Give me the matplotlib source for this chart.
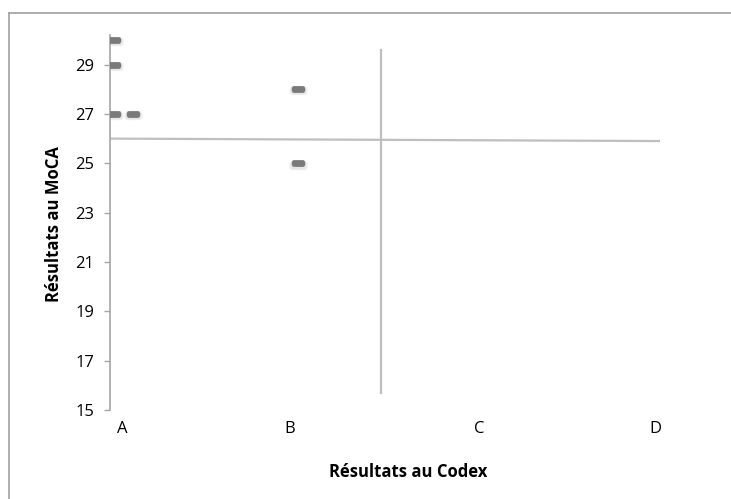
import matplotlib
matplotlib.use("Agg")
import matplotlib.pyplot as plt
from matplotlib.lines import Line2D
from matplotlib.path import Path

plt.rcParams['font.family'] = ['Open Sans', 'DejaVu Sans']

# ----------------------------------
# Data
# ----------------------------------
codex_labels = ["A", "B", "C", "D"]
codex_label_pos = [0.22, 3.27, 6.71, 9.91]

codex_x = [0.08, 0.08, 0.08, 0.41, 3.42, 3.42]
moca_y = [30, 29, 27, 27, 28, 25]

# quadrant separators
h_line_x = [0, 10]
h_line_y = [26.0, 25.9]
v_line_x = [4.93, 4.93]
v_line_y = [15.7, 29.6]

y_ticks = [15, 17, 19, 21, 23, 25, 27, 29]

# ----------------------------------
# Figure
# ----------------------------------
fig = plt.figure(figsize=(7.31, 4.99), dpi=100)
ax = fig.add_axes([0.1505, 0.1784, 0.7524, 0.7515])

grey = '#a6a6a6'
line_grey = '#bfbfbf'

ax.plot(h_line_x, h_line_y, color=line_grey, lw=1.6, zorder=1)
ax.plot(v_line_x, v_line_y, color=line_grey, lw=1.6, zorder=1)

# rounded dash marker
r = 0.35
verts = [(-1 + r, -0.5), (1 - r, -0.5), (1, -0.5), (1, 0), (1, 0.5),
         (1 - r, 0.5), (-1 + r, 0.5), (-1, 0.5), (-1, 0), (-1, -0.5),
         (-1 + r, -0.5)]
codes = [Path.MOVETO, Path.LINETO, Path.CURVE3, Path.CURVE3, Path.CURVE3,
         Path.CURVE3, Path.LINETO, Path.CURVE3, Path.CURVE3, Path.CURVE3,
         Path.CURVE3]
dash = Path(verts, codes)

# soft blur around the markers
for s, a in [(190, 0.08), (140, 0.12)]:
    ax.scatter(codex_x, [v - 0.05 for v in moca_y], marker=dash, s=s,
               color='#808080', alpha=a, linewidths=0, zorder=2)
ax.scatter(codex_x, moca_y, marker=dash, s=95, color='#7a7a7a',
           linewidths=0, zorder=3)

ax.set_xlim(0, 10)
ax.set_ylim(15, 30.2)

ax.set_yticks(y_ticks)
ax.set_xticks(codex_label_pos)
ax.set_xticklabels(codex_labels)

ax.tick_params(axis='y', direction='out', length=4.3, width=1.0, color=grey,
               labelsize=12, pad=7, labelcolor='black')
ax.tick_params(axis='x', length=0, labelsize=12, pad=8, labelcolor='black')

for s in ['top', 'right', 'bottom']:
    ax.spines[s].set_visible(False)
ax.spines['left'].set_color(grey)
ax.spines['left'].set_linewidth(1.2)

fig.text(0.558, 0.054, "Résultats au Codex", ha='center', va='center',
         fontsize=12, fontweight='bold')
fig.text(0.074, 0.551, "Résultats au MoCA", ha='center', va='center',
         rotation=90, fontsize=12, fontweight='bold')

# frame of the chart area (only top and left edges visible)
fig.add_artist(Line2D([9 / 731, 9 / 731], [0, 1 - 13 / 499],
                      transform=fig.transFigure, color='#a0a0a0', lw=1.2))
fig.add_artist(Line2D([9 / 731, 1], [1 - 13 / 499, 1 - 13 / 499],
                      transform=fig.transFigure, color='#a0a0a0', lw=1.2))

fig.savefig("out.png", dpi=100)
